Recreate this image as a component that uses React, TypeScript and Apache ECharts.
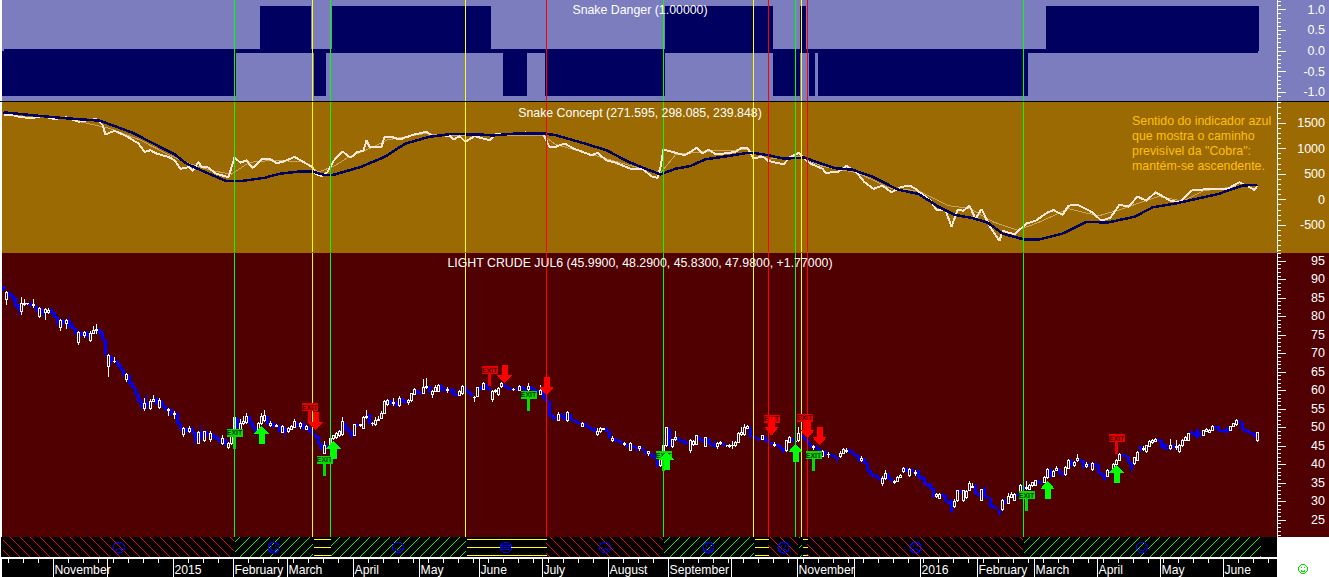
import React, { useEffect, useRef } from "react";
import * as echarts from "echarts";

// ---------- candles: [open, close, low, high] ----------
const candlesA = [
[88,87.2,86.5,88.3],[84.5,86.5,83.2,87],[86.6,85.6,85,87],[85.6,84.8,84,86],[85,83,82.5,85.2],[83.2,81.8,80.4,83.5],[81.4,83.6,80.3,85.3],[83.2,83.5,82.8,84.8],[83.4,83.5,83.2,83.7],[83.4,83,82.6,83.8],
[83,83.3,82.2,84.6],[82.8,81.5,81,83],[80,82.2,79.5,82.5],[81.8,81.2,80,82],[81,81.8,79,82.2],[81.2,81.6,80.8,82.2],[82,81,80.6,82.4],[81,79.8,79.5,81.2],[79.8,78.4,77.2,80],[77,78.9,76,79.2],
[78.8,78.1,77.4,79.4],[78,78.8,76.6,79.4],[78.8,77.4,76.8,80],[77.6,76.8,76.4,78.2],[76.8,75.4,75,77],[73,75.6,72.4,76],[75.6,74.8,74.4,76],[74.8,75.6,74.2,76],[75.6,74.6,74.2,76],[73.6,75.5,73.2,76.2],
[75.4,76.3,75.2,77.4],[76.2,76.4,75.4,78],[76.4,75.8,75,76.8],[75.8,73.8,73.4,76.2],[73.8,70,69,74],[66.4,69.4,63.6,69.8],[69.2,67.8,66.6,69.6],[67.8,67.9,67.4,69],[67.8,66.9,66.4,68],[66.9,65.6,65.2,67],
[65.6,64,63.6,65.8],[63,64.4,62.4,64.8],[64,62,61.6,64.2],[62,60.8,60.4,62.2],[60.8,59,58.8,61],[59,57,56.8,59.2],[57,55.6,54.8,58],[55,56.4,54.4,58],[56.4,56,54.6,59],[55,57,54.6,57.6],
[57,57.6,56.8,58.8],[57.8,56.4,55.8,58],[55.4,57.4,55,58],[57,55.8,55.2,57.2],[55.8,54.8,54.2,56],[54.6,54.8,53.2,55.2],[54.8,53.6,53,55],[53.6,53.8,52.4,54.4],[53.8,51,50.6,54],[51,49.6,48.8,51.2],
[48.2,49.6,47.4,50.2],[49.6,49,48.2,50.2],[49,49.8,48.6,50.4],[49.6,48.6,48,50],[48.6,46.6,45.4,49],[45.8,48.6,45.6,49],[48.6,47.4,46.4,50.8],[46.4,48.8,46,49],[48.6,48,47.4,49.2],[46.8,48.4,46.2,49],
[48.2,47.4,47,48.6],[47.4,46.8,46.6,48],[46.8,46.2,45.6,47.4],[45.6,47,45.4,48],[46.8,45.4,45,47],[44.6,45.6,44.2,46],[45.6,48,45.2,48.4],[47.4,52.6,46,54.6],[52.4,50,49.4,52.8],[49.4,51,48.6,52.4],
[51,51.6,50.6,53],[51.4,53,51,54],[53,51.4,50.8,53.4],[51.4,50,49.6,51.8],[50,48.8,47.8,50.2],[48.6,51,48.2,51.4],[51,53,50.6,54],[52,53.2,51.6,54.6],[53,50.8,50.4,53.2],[50.6,51.2,50.2,51.8],
[51.2,50.2,49.8,51.4],[50.2,50.6,50,51],[50.6,48.8,48.4,50.8],[48.6,50.2,48.4,50.6],[49.8,48.8,47.4,50.2],[48.8,49.8,48.6,50.2],[49.4,50.2,49.2,50.8],[50,51.6,49.8,52.4],[51.2,50.4,50,51.4],[50.2,51,49.6,51.4],
];
const candlesB = [
[51,49.8,49.4,51.2],[49.4,50.4,49.2,50.8],[50,48.8,48.4,50.2],[48.8,48.2,47.8,49],[48.2,47.6,47,48.6],[47.6,45.6,44.6,47.8],[45.6,44.2,43.6,45.8],[43,45.2,42.8,46.4],[45.2,44.6,44.2,45.6],[44.8,47,44.6,47.4],
[47,47.8,46.6,48],[47.4,48.4,47,48.8],[47.8,48.8,47.4,49.4],[48,51.6,47.8,52.8],[51,49.8,49,51.2],[49.8,48.8,48.2,50],[48.8,47.8,46.8,49],[47.8,50.8,47.6,51],[50.8,50.6,50,51.2],[50.6,50.8,50.2,51],
[49.8,52.7,49.6,53],[52.7,52.9,52.4,54.7],[53.4,51,50.6,53.6],[51,51.2,50.4,51.6],[50.8,52,50.4,52.8],[52,52.2,51.8,53],[52.5,53.8,52.2,54.4],[53.8,57,53.6,57.4],[56.2,57.4,55.8,57.8],[57.4,56.4,56,57.8],
[56.4,56.8,55.8,58],[56.8,56,55.6,57.2],[56,57.8,55.6,58.4],[57.8,57,56.6,58],[57,56.8,56.4,57.4],[56.8,57.2,56.2,57.6],[57.2,59.2,57,59.4],[59,60.2,58.8,60.6],[60,59.4,59,60.2],[59.4,59.2,58.8,59.6],
[59.2,60.9,59,63],[60.8,61,60.4,63.4],[61,59.8,59.2,61.2],[58.8,59.8,58,60.2],[59.8,60.8,59.6,61.4],[59.8,61.4,59.6,61.8],[61.4,60.2,59.4,61.8],[60.2,60,59.6,60.6],[60,60.4,59.4,61],[60.4,60,59,60.6],
[60.2,59,58.8,60.6],[59,58.6,58.2,59.4],[58.6,59.6,58.4,60],[59.2,61,58.8,61.4],[61,59.8,59.4,61.2],[59.8,59.2,58.8,60.2],[59.2,58.6,58.2,59.6],[58,58.2,57,58.6],[58.4,60.8,58.2,61],[60.8,60.4,60,61.2],
[60.4,61.8,60.2,62.4],[61.6,60.6,60.2,61.8],[60.6,60.2,59.8,61],[57.6,59.7,57,60.2],[59.6,60,59.2,60.4],[58.8,60.6,58.4,61],[61,62,60.8,62.4],[61.6,61,60.6,61.8],[61,60.6,60.4,61.2],[60.6,60.4,60,60.8],
[60.2,60.4,59.8,60.8],[60.4,60.2,59.8,60.6],[60,61.2,59.8,61.6],[61,60.6,60.2,61.2],[60.6,60,59.4,60.8],[60.2,61.2,59.8,62],[61,60.4,60,61.2],[60.4,60,59.6,60.8],[60,59.8,59.4,60.2],[59,60.1,58.8,61.4],
[60,58,57.4,60.2],[58,57,56.6,58.2],[57,53.2,52.8,57.2],[53.2,52.6,51.8,53.6],[52.6,52.4,52,53],[52,53.4,51.8,54.2],[53.4,53,52.6,53.8],[53,52.2,52,54.2],[52,54,51.6,54.4],[53.6,52.2,51.8,53.8],
[52.2,51.8,51.4,52.4],[51.8,51.4,51,52],[51.4,51,50.6,51.6],[50.4,51.2,50,51.6],[51,50.4,50.2,51.2],[50.4,50,49.6,50.6],[50,49.4,49,50.2],[49.4,48.8,48.4,49.8],[48,49,47.8,49.8],[48.8,49.6,48.6,50],
];
const candlesC = [
[49.4,49.6,49.2,49.8],[49.6,48.8,48.4,50],[48.8,47.2,47,49],[46.6,47,46,47.8],[47,46.6,46.2,47.2],[46.6,46.2,45.8,46.8],[46.2,45.8,45.4,46.4],[45.4,45.8,45,46],[45.4,44.8,44.4,45.6],[43.8,45.6,43.6,46],
[45,44.6,44.2,45.2],[44.6,44.4,43.4,44.8],[44.4,44.8,43.6,45],[44.6,44,43.4,44.8],[43.6,43,42.6,43.8],[43,43.4,42.2,43.6],[43,42.4,41.8,43.2],[42.4,41.6,41.4,42.6],[41.2,39.8,39,41.4],[39.6,41.4,39.4,41.8],
[41,45.2,40.6,46],[45,50,44.6,50.2],[49.4,45,44.6,49.8],[44.8,46.8,44.4,47],[46.8,47.2,46.4,49],[47,46.6,46.2,47.4],[46.6,46.2,45.8,47],[46.2,45.8,45.4,47],[45.8,45.6,45.2,46.4],[43.8,46.4,43.2,46.8],
[45.4,46.2,45,46.6],[45.5,47.7,45.2,48],[47.4,46.8,46.4,47.6],[46.8,46.2,45.8,47],[44.8,47.2,44.6,47.4],[47,45.8,45.4,47.2],[45.8,45.4,44.8,46.4],[45.4,44.8,44.4,46.6],[44.8,45.8,44.2,46.2],[45.8,46,45.4,46.4],
[45.6,45,44.8,46],[45,45,44.6,45.4],[44.8,45.2,44.4,45.6],[45,45.2,44.2,46.4],[45.2,46,44.8,46.4],[46,48.4,45.8,48.8],[48.2,48.6,47.8,50],[48,50,47.6,51],[49.8,50.2,49.6,50.6],[50,47.6,47.2,50.2],
[47.6,47.2,46.8,47.8],[47.2,47,46.6,47.4],[47,46.8,46.4,47.2],[46.8,47.8,46.6,48],[47.4,46.6,46.2,47.6],[46.6,46,45.6,46.8],[46,45.4,45.2,46.2],[45.2,45.4,44.8,46],[45.4,45,44.6,45.6],[45,44.2,43.8,45.2],
[44.2,43.6,43.2,44.4],[43.8,46.4,43.4,46.6],[46,47.2,45.8,47.6],[47,46.4,45.8,47.2],[46.2,46.2,45.8,46.6],[46.4,48.4,46,50.2],[48.2,47.2,46.8,48.4],[47.2,46.8,46.4,47.4],[46.8,45.6,45.2,47],[45.6,44.8,44.4,45.8],
[44.6,44.8,43.8,45.4],[44.8,44.2,43.8,45],[44.2,43.4,42.8,44.4],[42.2,43.6,42,44],[43.4,42.8,42.4,43.6],[42.6,42.8,41.8,43.4],[42.8,42.4,42,43],[42.4,41.8,41.4,42.6],[41.8,41.6,40.4,42],[42.2,43,41.8,43.6],
[43,44,42.8,44.4],[43.6,43.8,43.2,44.4],[44,43.4,43,44.2],[43.4,42.8,42.6,43.6],[42.8,42.4,42,43],[42.4,41,40.8,42.6],[41.2,41.6,40.6,42.4],[41.6,40.4,40,41.8],[40.4,38.4,38,40.6],[38.4,37.2,36.8,38.6],
[37.2,37,36.4,37.6],[37,36.4,36,37.4],[36.4,36,35.6,36.6],[34.8,36.2,34.2,37],[36.2,37.6,35.8,38.4],[37.4,36.2,35.8,38],[36.2,35.6,35.2,36.4],[35.2,35.4,34.8,35.8],[35.4,36.6,35.2,37],[36.6,37,36.4,37.4],
];
const candlesD = [
[38,39,37.8,39.4],[38.8,38.2,37.8,39],[36.9,38.7,36.6,39],[38.6,38,37.6,38.8],[37.6,37.8,37,38.4],[38.4,36.8,36.2,38.8],[36.8,36.2,35.8,37.2],[36.4,34.8,34.4,36.6],[34.8,34.4,34,35],[34.6,33.6,33.2,35],
[33.5,31.4,31,33.8],[31.4,31.8,31,32.4],[30.9,31.9,30.6,32.2],[31.8,31.6,31,32.2],[31.6,30,29.8,31.8],[30,29.4,29,30.2],[30.4,27.4,27,30.6],[28.6,30,28.2,30.6],[30.2,32.9,29.8,33.2],[32.9,32.6,32,33.2],
[30.2,33,29.8,33.2],[31,32.8,30.8,33.2],[33,34.8,32.8,35.6],[33.9,34,33.6,35],[34.4,32.2,31.8,34.6],[32.2,31.6,31,32.4],[30.4,33.2,30,33.4],[33.6,31.4,30.8,34.2],[31.4,31,30.6,31.6],[30.8,28.6,28.2,31],
[28.8,28.4,28,29],[28.4,28,27.6,28.6],[27.6,26.8,26.2,27.8],[27.7,30.2,27.4,30.6],[30,29.8,29.4,30.8],[29.5,31.3,29.2,32.4],[31.2,32,31,32.6],[30.2,31.9,30,32.4],[31.8,31.6,31.2,32],[32.4,34.2,32,34.8],
[34,33.2,32.8,34.4],[33.4,33.8,33,35.6],[33.2,34.4,33,34.8],[34.2,35,34,35.4],[34.4,35.6,34.2,35.8],[35.4,35.2,34.8,35.8],[35.2,35.1,34.6,35.6],[35.2,36.5,35,36.8],[36.5,38.7,36.2,39],[38.6,36.8,36.4,38.8],
[36.8,38.2,36.6,38.6],[38.4,39,38.2,39.6],[38.6,37.6,37.2,38.8],[37.6,37.2,36.8,38],[37.2,39.2,37,39.6],[39,41,38.8,41.4],[41.2,39.8,39.4,41.4],[39.8,40.6,39.4,41],[41,41.6,40.6,42.8],[41.4,41,40.4,41.6],
[41,39.2,38.8,41.2],[39.4,40,39,40.6],[40,39.6,39.2,40.4],[38.6,40.4,38.2,40.8],[40.2,39.8,39,40.4],[39.8,37.8,37.4,40],[37.8,37.2,36.8,38],[37.2,36,35.6,37.4],[36.8,38.4,36.6,38.8],[38.4,38,37.6,38.6],
[38.2,40,38,40.4],[40,41.2,39.8,41.6],[41.2,42.8,41,43],[42.6,42.4,42,42.8],[42.4,42.2,42,42.8],[42.2,40.6,40.2,42.4],[40.6,38.8,37.8,40.8],[40.2,41.8,39.8,42],[41.2,43.2,41,43.6],[44.8,44,43.4,45],
[44,44.2,43.6,45],[43.4,45,43,45.4],[44.8,46.2,44.6,46.6],[46,46.4,45.6,46.8],[46.2,46.8,46,47.2],[46.8,46.6,46.2,47],[46.6,44.8,44.4,46.8],[45.4,44.4,44,45.6],[44.4,44.2,43.8,45.6],[44.2,45.2,44,47],
[45.2,44.6,44,45.4],[44.6,44.8,44,46.6],[43.6,45.2,43.2,45.6],[45,46.6,44.8,47],[46.6,47.4,46.4,47.8],[46.6,48.4,46.4,48.6],[48.8,48.4,48,49],[48.4,47.8,47.6,48.8],[49.4,47.4,47,49.6],[48.4,48,47.6,48.6],
[47.9,49.1,47.6,49.4],[49,49.4,48.8,49.8],[48.6,49.2,48.4,49.6],[49.1,50.2,49,50.6],[50.2,50,49.6,50.4],[50.2,49.2,48.8,50.4],[49.2,49,48.6,49.4],[49.4,48.8,48.4,49.6],[49.8,48.8,48.2,50],[49.3,50.2,49,50.4],
[50.2,51,50,51.2],[50.7,52,50.4,52.4],[51.6,51.4,51,52],[51.2,49.4,49,51.4],[49.4,49,48.6,49.6],[49.2,48.6,48.2,49.4],[48.6,48.4,48,48.8],[48.4,47.6,47.2,48.6],[46.4,48.6,46.2,48.8],
];

// ---------- Snake Concept: [bar, value] ----------
const snakeNavy = [
[0,1710],[10,1651],[21,1592],[32,1546],[37,1441],[43,1309],[50,1098],[57,887],[61,703],[68,518],[74,367],[79,360],[87,426],[92,505],[98,545],[103,551],[107,479],[110,485],[119,637],[127,835],[134,1098],[142,1230],[149,1283],
[159,1276],[163,1256],[171,1296],[180,1296],[184,1263],[193,1111],[201,966],[208,749],[214,604],[219,492],[224,604],[229,657],[234,789],[241,848],[248,914],[250,914],[255,868],[260,802],[267,822],[271,736],[277,617],[283,584],[290,440],[298,196],
[305,110],[312,-153],[317,-298],[323,-364],[328,-450],[333,-667],[340,-779],[345,-786],[353,-667],[361,-437],[368,-450],[377,-338],[383,-153],[391,-74],[399,31],[405,110],[413,275],[418,288],
];
const snakeWhite = [
[0,1658],[3,1658],[5,1625],[9,1592],[13,1638],[17,1579],[21,1612],[25,1526],[31,1579],[33,1460],[34,1276],[37,1348],[41,1243],[45,1098],[47,933],[49,966],[51,900],[55,835],[57,769],[59,604],[62,637],[63,558],[65,736],[66,637],[68,637],[71,505],[75,439],[76,637],[77,821],[79,723],[81,769],[83,617],[86,788],[89,788],[91,716],[93,736],[97,835],[100,736],[103,637],[104,505],[106,459],[108,538],[110,755],[113,946],[115,847],[116,835],[118,933],[120,953],[121,1164],[122,1032],[126,1032],[127,1230],[130,1217],[132,1177],[134,1217],[137,1276],[141,1329],[143,1243],[146,1263],[149,1243],
[150,1177],[152,1243],[154,1131],[157,1243],[162,1164],[164,1276],[169,1276],[174,1316],[180,1276],[182,1032],[184,1032],[187,1098],[190,1000],[196,868],[198,914],[201,769],[204,723],[209,604],[213,604],[216,453],[218,426],[219,637],[220,979],[223,933],[227,868],[229,933],[231,1012],[233,900],[235,979],[237,900],[240,900],[244,933],[246,1012],[248,1012],[250,802],[253,848],[255,755],[260,690],[262,822],[265,914],[267,802],[269,703],[273,604],[274,525],[278,538],[281,657],[284,558],[287,341],[290,209],[293,275],[296,143],
[299,242],[302,275],[304,209],[309,-22],[311,-206],[314,-206],[316,-535],[318,-206],[320,-219],[322,-121],[324,-384],[326,-186],[329,-549],[332,-812],[333,-614],[337,-680],[341,-470],[344,-417],[348,-252],[350,-206],[353,-298],[355,-121],[358,-101],[363,-252],[366,-417],[369,-351],[372,-101],[375,-140],[378,57],[381,-22],[384,143],[389,-22],[392,-55],[396,176],[402,209],[408,209],[412,341],[417,189],[418,275],
];
const snakeTan = [
[0,1690],[20,1600],[35,1400],[45,1180],[55,880],[62,700],[70,560],[76,500],[82,730],[90,770],[100,740],[105,540],[110,650],[115,830],[122,1000],[128,1170],[140,1290],[149,1260],[165,1250],[180,1250],[184,1080],[195,900],[205,730],[215,570],[219,520],[224,880],[235,950],[248,980],[255,790],[265,850],[273,650],[285,520],[295,230],[305,170],[315,-120],[322,-170],[330,-440],[338,-600],[345,-450],[355,-180],[365,-320],[372,-200],[385,60],[393,-30],[400,170],[415,290],
];

// ---------- Snake Danger: [firstBar, lastBar] runs ----------
const dangerUpRuns = [[86,102],[110,162],[221,256],[265,267],[348,418]];
const dangerDownRuns = [[0,77],[104,107],[167,174],[181,220],[257,265],[269,270],[272,341]];
const dangerHigh = 1.08;
const dangerLow = -1.08;

// ---------- signal bars ----------
const greenSignals = [77, 109, 220, 264, 340];
const yellowSignals = [103, 154, 250, 266];
const redSignals = [181, 255, 268];

// ---------- markers: [bar, price] ----------
const greenArrows = [[86,50.4],[110,46.4],[221,43.4],[264,45.5],[348,35.5],[371,39.9]];
const redArrows = [[104,49.3],[167,62],[181,58.8],[256,48],[268,47.2],[272,45.3]];
const greenFlags = [[77,44.2],[107,36.9],[175,54.5],[220,38.2],[270,38.2],[341,27.4]];
const redFlags = [[102,51.2],[162,61.2],[256,48],[267,48.3],[371,42.8]];

// ---------- hatch strip: [startBar, endBar] per regime ----------
const redRegimes = [[-0.5,77],[181,220],[255,265],[268,340]];
const greenRegimes = [[77,103],[109,154],[220,250],[265,266],[340,419]];
const yellowRegimes = [[103,109],[154,181],[250,255],[266,268]];

// ---------- time axis ----------
const monthBars = [17,35,57,77,95,117,139,159,180,202,222,243,265,284,306,325,344,365,386,407];
const monthNames = ["November","","2015","February","March","April","May","June","July","August","September","","November","","2016","February","March","April","May","June"];
const barCount = 425;

// ---------- y axis ticks ----------
const dangerTicks = [-1, -0.5, 0, 0.5, 1];
const dangerMinor = [-1.1,-1,-0.9,-0.8,-0.7,-0.6,-0.5,-0.4,-0.3,-0.2,-0.1,0,0.1,0.2,0.3,0.4,0.5,0.6,0.7,0.8,0.9,1,1.1,1.2];
const snakeTicks = [-500, 0, 500, 1000, 1500];
const snakeMinor = [-1000,-900,-800,-700,-600,-500,-400,-300,-200,-100,0,100,200,300,400,500,600,700,800,900,1000,1100,1200,1300,1400,1500,1600,1700,1800,1900];
const priceTicks = [25,30,35,40,45,50,55,60,65,70,75,80,85,90,95];
const priceMinor = [21,22,23,24,25,26,27,28,29,30,31,32,33,34,35,36,37,38,39,40,41,42,43,44,45,46,47,48,49,50,51,52,53,54,55,56,57,58,59,60,61,62,63,64,65,66,67,68,69,70,71,72,73,74,75,76,77,78,79,80,81,82,83,84,85,86,87,88,89,90,91,92,93,94,95,96,97];

const noteLines = ["Sentido do indicador azul", "que mostra o caminho", "previsível da \"Cobra\":", "mantém-se ascendente."];

const LAV = "#7B7DBF", BROWN = "#9C6A02", DARKRED = "#500000", NAVY = "#000060";
const FONT = "'Liberation Sans', Arial, sans-serif";

const hatchRenderer = (list: number[][], kind: "red" | "green" | "yellow") => (params: any, api: any) => {
  const [startBar, endBar] = list[params.dataIndex];
  const x0 = api.coord([startBar, 0])[0];
  const x1 = api.coord([endBar, 0])[0];
  const yB = api.coord([0, 0])[1];
  const yT = api.coord([0, 1])[1];
  const h = yB - yT;
  const children: any[] = [];
  const line = (a: number, b: number, c: number, d: number, stroke: string) =>
    children.push({ type: "line", shape: { x1: a, y1: b, x2: c, y2: d }, style: { stroke, lineWidth: 1, fill: null } });
  if (kind === "yellow") {
    [2, 10, 18].forEach((o) => line(x0 + 1, yT + o + 0.5, x1, yT + o + 0.5, "#FFFF00"));
  } else {
    const step = 10;
    const first = Math.floor((x0 - h) / step) * step;
    for (let k = first; k < x1; k += step) {
      const a = Math.max(k, x0), c = Math.min(k + h, x1);
      if (c <= a) continue;
      if (kind === "green") {
        line(a, yB - (a - k), c, yB - (c - k), "#00FF00");
      } else {
        line(a, yT + (a - k), c, yT + (c - k), "#FF0000");
      }
    }
  }
  if (x1 - x0 > 20) {
    const cx = (x0 + x1) / 2, cy = (yT + yB) / 2 + 0.5;
    const blue = "#0000FF";
    const st = { stroke: blue, lineWidth: 1, fill: null };
    children.push({ type: "circle", shape: { cx, cy, r: 5.5 }, style: st });
    if (kind === "yellow") {
      line(cx - 5, cy - 2, cx + 5, cy - 2, blue);
      line(cx - 5, cy, cx + 5, cy, blue);
      line(cx - 5, cy + 2, cx + 5, cy + 2, blue);
    } else {
      children.push({ type: "circle", shape: { cx: cx - 2, cy: cy - 1.5, r: 0.6 }, style: { fill: blue } });
      children.push({ type: "circle", shape: { cx: cx + 2, cy: cy - 1.5, r: 0.6 }, style: { fill: blue } });
      if (kind === "green") {
        children.push({ type: "arc", shape: { cx, cy, r: 3.2, startAngle: 0.3, endAngle: Math.PI - 0.3, clockwise: true }, style: st });
      } else {
        children.push({ type: "arc", shape: { cx, cy: cy + 4.5, r: 3.2, startAngle: Math.PI + 0.3, endAngle: Math.PI * 2 - 0.3, clockwise: true }, style: st });
      }
    }
  }
  return { type: "group", children };
};

function App() {
  const ref = useRef<HTMLDivElement>(null);
  useEffect(() => {
    document.body.style.margin = "0";
    document.body.style.background = "#fff";
    const chart = echarts.init(ref.current!, null, { renderer: "svg" });
    const candles = [...candlesA, ...candlesB, ...candlesC, ...candlesD];
    const cats = Array.from({ length: barCount }, (_, i) => "b" + i);
    const danger: (number | null)[] = cats.map(() => null);
    dangerUpRuns.forEach(([a, b]) => { for (let i = a; i <= b; i++) danger[i] = dangerHigh; });
    dangerDownRuns.forEach(([a, b]) => { for (let i = a; i <= b; i++) danger[i] = dangerLow; });

    const sigData = [
      ...greenSignals.map((b) => ({ xAxis: b, lineStyle: { color: "#00FF00", width: 1, type: "solid" } })),
      ...yellowSignals.map((b) => ({ xAxis: b, lineStyle: { color: "#FFFF00", width: 1, type: "solid" } })),
      ...redSignals.map((b) => ({ xAxis: b, lineStyle: { color: "#FF0000", width: 1, type: "solid" } })),
    ];
    const sigLine = { symbol: "none", silent: true, animation: false, label: { show: false }, data: sigData };
    const hx = (gridIndex: number) => ({ type: "category", gridIndex, data: cats, show: false, boundaryGap: true });
    const left = 2, right = 52;
    const monthSet = new Set(monthBars);
    const majorY = (gridIndex: number, min: number, max: number, ticks: number[], fmt: any) => ({
      type: "value", gridIndex, position: "right", min, max, splitLine: { show: false },
      axisLine: { show: true, onZero: false, lineStyle: { color: "#fff", width: 1 } },
      axisTick: { show: true, length: 9, customValues: ticks, lineStyle: { color: "#fff", width: 1 } },
      axisLabel: { show: true, customValues: ticks, margin: 48, align: "right", color: "#fff", fontSize: 12.5, fontFamily: FONT, formatter: fmt },
    });
    const minorY = (gridIndex: number, min: number, max: number, ticks: number[]) => ({
      type: "value", gridIndex, position: "right", min, max, splitLine: { show: false },
      axisLine: { show: false }, axisLabel: { show: false },
      axisTick: { show: true, length: 4, customValues: ticks, lineStyle: { color: "#fff", width: 1 } },
    });
    const plain = (v: number) => String(v);
    const title = (text: string, top: number) => ({
      text, left: 640, top, textAlign: "center", padding: 0,
      textStyle: { fontSize: 12.35, fontWeight: "normal", color: "#fff", fontFamily: FONT },
    });
    const flagPath = "path://M0 0H16V8H9.5V20H6.5V8H0Z";
    const flag = (name: string, data: number[][], color: string, textColor: string) => ({
      name, type: "scatter", xAxisIndex: 2, yAxisIndex: 4, data, z: 6,
      symbol: flagPath, symbolSize: [16, 20], symbolOffset: [0, -10], itemStyle: { color, opacity: 1 },
      label: { show: true, position: "inside", offset: [0, -6], formatter: "EXIT", fontSize: 7, color: textColor, fontFamily: FONT, fontWeight: "bold" },
    });
    const regime = (name: string, list: number[][], kind: "red" | "green" | "yellow") => ({
      name, type: "custom", xAxisIndex: 3, yAxisIndex: 6, data: list, renderItem: hatchRenderer(list, kind),
      encode: { x: [0, 1], y: -1 }, clip: false, z: 3,
    });
    chart.setOption({
      animation: false,
      backgroundColor: "#fff",
      title: [
        title("Snake Danger (1.00000)", 4),
        title("Snake Concept (271.595, 298.085, 239.848)", 107),
        title("LIGHT CRUDE JUL6 (45.9900, 48.2900, 45.8300, 47.9800, +1.77000)", 257),
      ],
      tooltip: { show: false },
      grid: [
        { left, right, top: 0, height: 101 },
        { left, right, top: 102, height: 150 },
        { left, right, top: 253, height: 284 },
        { left, right, top: 537, height: 20 },
        { left, right, top: 558, height: 19 },
      ],
      xAxis: [
        hx(0), hx(1), hx(2), hx(3),
        {
          type: "category", gridIndex: 4, data: cats, position: "top", boundaryGap: true,
          axisLine: { show: true, onZero: false, lineStyle: { color: "#fff", width: 1 } },
          axisTick: { show: true, inside: true, length: 19, interval: (i: number) => monthSet.has(i), lineStyle: { color: "#fff", width: 1 } },
          axisLabel: {
            show: true, inside: true, margin: 6, align: "left", color: "#fff", fontSize: 12.2, fontFamily: FONT,
            interval: (i: number) => monthSet.has(i),
            formatter: (_: string, i: number) => monthNames[monthBars.indexOf(i)] ?? "",
          },
        },
        {
          type: "category", gridIndex: 4, data: cats, position: "top", boundaryGap: true,
          axisLine: { show: false, onZero: false }, axisLabel: { show: false },
          axisTick: { show: true, inside: true, length: 5, interval: (i: number) => i % 5 === 2, lineStyle: { color: "#fff", width: 1 } },
        },
      ],
      yAxis: [
        majorY(0, -1.205, 1.229, dangerTicks, (v: number) => v.toFixed(1)),
        minorY(0, -1.205, 1.229, dangerMinor),
        majorY(1, -1028, 1912, snakeTicks, plain),
        minorY(1, -1028, 1912, snakeMinor),
        majorY(2, 20.4, 97.16, priceTicks, plain),
        minorY(2, 20.4, 97.16, priceMinor),
        { type: "value", gridIndex: 3, min: 0, max: 1, show: false },
        { type: "value", gridIndex: 4, min: 0, max: 1, show: false },
      ],
      series: [
        {
          name: "Snake Danger", type: "bar", xAxisIndex: 0, yAxisIndex: 0, data: danger, barWidth: 3, z: 2,
          itemStyle: { color: NAVY },
          markLine: {
            symbol: "none", silent: true, animation: false, label: { show: false },
            data: [
              [
                { xAxis: 0, yAxis: 0, lineStyle: { color: NAVY, width: 4, type: "solid" } },
                { xAxis: 418, yAxis: 0 },
              ],
              ...sigData,
            ],
          },
        },
        { name: "Snake tan", type: "line", xAxisIndex: 1, yAxisIndex: 2, data: snakeTan, showSymbol: false, z: 3, lineStyle: { color: "#C8A468", width: 1 } },
        { name: "Snake white", type: "line", xAxisIndex: 1, yAxisIndex: 2, data: snakeWhite, showSymbol: false, z: 3, lineStyle: { color: "#FFE8D8", width: 2 } },
        { name: "Snake navy", type: "line", xAxisIndex: 1, yAxisIndex: 2, data: snakeNavy, showSymbol: false, z: 4, lineStyle: { color: NAVY, width: 2.5 }, markLine: sigLine },
        {
          name: "LIGHT CRUDE", type: "candlestick", xAxisIndex: 2, yAxisIndex: 4, data: candles, barWidth: 2, z: 3,
          itemStyle: { color: DARKRED, color0: "#0000FF", borderColor: "#FFFFFF", borderColor0: "#0000FF", borderColorDoji: "#FFFFFF", borderWidth: 1 },
          markLine: sigLine,
        },
        flag("Exit long", greenFlags, "#00E000", "#003000"),
        flag("Exit short", redFlags, "#E80000", "#500000"),
        {
          name: "Buy", type: "scatter", xAxisIndex: 2, yAxisIndex: 4, data: greenArrows, z: 7,
          symbol: "path://M7.5 0L15 8H10.5V18H4.5V8H0Z", symbolSize: [15, 18], symbolOffset: [0, 9], itemStyle: { color: "#00FF00", opacity: 1 },
        },
        {
          name: "Sell", type: "scatter", xAxisIndex: 2, yAxisIndex: 4, data: redArrows, z: 7,
          symbol: "path://M4.5 0H10.5V10H15L7.5 18L0 10H4.5Z", symbolSize: [15, 18], symbolOffset: [0, -9], itemStyle: { color: "#FF0000", opacity: 1 },
        },
        regime("Regime red", redRegimes, "red"),
        regime("Regime green", greenRegimes, "green"),
        regime("Regime yellow", yellowRegimes, "yellow"),
      ],
      graphic: {
        elements: [
          { type: "rect", silent: true, z: -1, shape: { x: 2, y: 0, width: 1327, height: 101 }, style: { fill: LAV } },
          { type: "rect", silent: true, z: -1, shape: { x: 0, y: 101, width: 1329, height: 1 }, style: { fill: "#000" } },
          { type: "rect", silent: true, z: -1, shape: { x: 2, y: 102, width: 1327, height: 151 }, style: { fill: BROWN } },
          { type: "rect", silent: true, z: -1, shape: { x: 2, y: 253, width: 1327, height: 284 }, style: { fill: DARKRED } },
          { type: "rect", silent: true, z: -1, shape: { x: 1, y: 537, width: 1276, height: 20 }, style: { fill: "#000" } },
          { type: "rect", silent: true, z: -1, shape: { x: 2, y: 558, width: 1275, height: 19 }, style: { fill: "#000" } },
          ...noteLines.map((t, i) => ({
            type: "text", silent: true, z: 8, x: 1132, y: 115 + i * 15,
            style: { text: t, fill: "#FFC000", fontSize: 12.4, fontFamily: FONT },
          })),
          {
            type: "group", silent: true, z: 8, x: 1303, y: 569,
            children: [
              { type: "circle", shape: { cx: 0, cy: 0, r: 4.5 }, style: { stroke: "#00E000", lineWidth: 1, fill: null } },
              { type: "arc", shape: { cx: 0, cy: 0, r: 2.5, startAngle: 0.3, endAngle: Math.PI - 0.3, clockwise: true }, style: { stroke: "#00E000", lineWidth: 1, fill: null } },
              { type: "circle", shape: { cx: -1.6, cy: -1.3, r: 0.6 }, style: { fill: "#00E000" } },
              { type: "circle", shape: { cx: 1.6, cy: -1.3, r: 0.6 }, style: { fill: "#00E000" } },
            ],
          },
        ],
      },
    });
    return () => chart.dispose();
  }, []);
  return <div ref={ref} style={{ width: 1329, height: 577, shapeRendering: "crispEdges" } as any} />;
}

export default App;
